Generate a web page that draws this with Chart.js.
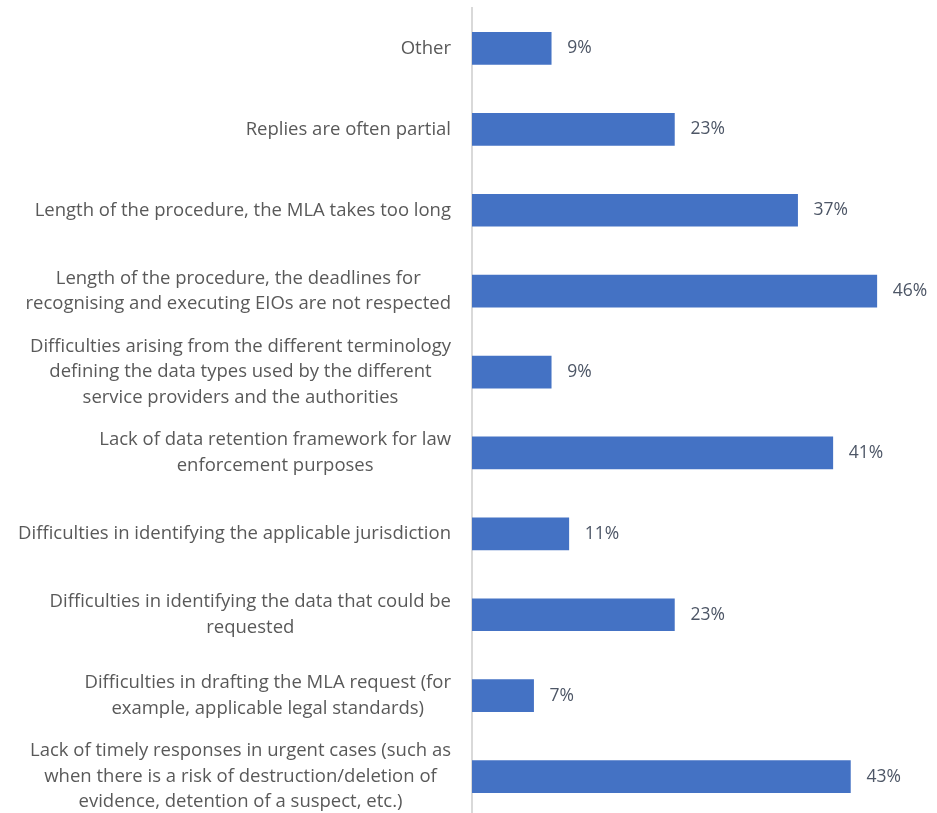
<!DOCTYPE html>
<html>
<head>
<meta charset="utf-8">
<script src="https://cdn.jsdelivr.net/npm/chart.js@4/dist/chart.umd.min.js"></script>
<style>
  html, body { margin: 0; padding: 0; background: #fff; overflow: hidden; }
  #wrap { width: 937px; height: 817px; position: relative; }
</style>
</head>
<body>
<div id="wrap"><canvas id="issuesChart"></canvas></div>
<script>
const categories = [
    ['Other'],
    ['Replies are often partial'],
    ['Length of the procedure, the MLA takes too long'],
    ['Length of the procedure, the deadlines for', 'recognising and executing EIOs are not respected'],
    ['Difficulties arising from the different terminology', 'defining the data types used by the different', 'service providers and the authorities'],
    ['Lack of data retention framework for law', 'enforcement purposes'],
    ['Difficulties in identifying the applicable jurisdiction'],
    ['Difficulties in identifying the data that could be', 'requested'],
    ['Difficulties in drafting the MLA request (for', 'example, applicable legal standards)'],
    ['Lack of timely responses in urgent cases (such as', 'when there is a risk of destruction/deletion of', 'evidence, detention of a suspect, etc.)']
]
const shares = [9, 23, 37, 46, 9, 41, 11, 23, 7, 43]

const FONT = '"Open Sans", Lato, sans-serif'
const LABEL_SIZE = 18.5
const LINE_HEIGHT = 25.5

// percentage text just past the end of each bar
const valueLabels = {
    id: 'valueLabels',
    afterDatasetsDraw(chart) {
        const ctx = chart.ctx
        const meta = chart.getDatasetMeta(0)
        ctx.save()
        ctx.font = '17.5px ' + FONT
        ctx.fillStyle = '#4d5666'
        ctx.textAlign = 'left'
        ctx.textBaseline = 'middle'
        meta.data.forEach((bar, i) => {
            ctx.fillText(shares[i] + '%', bar.x + 16, bar.y)
        })
        ctx.restore()
    }
}

// category text: block pushed against the axis, lines centred inside the block
const categoryLabels = {
    id: 'categoryLabels',
    afterDraw(chart) {
        const ctx = chart.ctx
        const yScale = chart.scales.y
        const right = yScale.right - 21
        ctx.save()
        ctx.font = LABEL_SIZE + 'px ' + FONT
        ctx.fillStyle = '#595959'
        ctx.textAlign = 'center'
        ctx.textBaseline = 'middle'
        categories.forEach((lines, i) => {
            const y = yScale.getPixelForTick(i)
            const w = Math.max(...lines.map(l => ctx.measureText(l).width))
            const cx = right - w / 2
            const y0 = y - (lines.length - 1) * LINE_HEIGHT / 2
            lines.forEach((l, j) => ctx.fillText(l, cx, y0 + j * LINE_HEIGHT))
        })
        ctx.restore()
    }
}

new Chart(document.getElementById('issuesChart'), {
    type: 'bar',
    data: {
        labels: categories,
        datasets: [{
            data: shares,
            backgroundColor: '#4472c4',
            barThickness: 32
        }]
    },
    options: {
        indexAxis: 'y',
        responsive: true,
        maintainAspectRatio: false,
        animation: false,
        layout: { padding: { top: 8, right: 25, bottom: 0, left: 0 } },
        plugins: {
            legend: { display: false },
            tooltip: { enabled: false }
        },
        scales: {
            x: {
                display: false,
                min: 0,
                max: 50
            },
            y: {
                afterFit: (scale) => {
                    scale.width = 472
                    scale.paddingTop = 0
                    scale.paddingBottom = 0
                },
                grid: { display: false, drawTicks: false },
                border: { color: '#d9d9d9', width: 2 },
                ticks: { display: false }
            }
        }
    },
    plugins: [valueLabels, categoryLabels]
})
</script>
</body>
</html>
